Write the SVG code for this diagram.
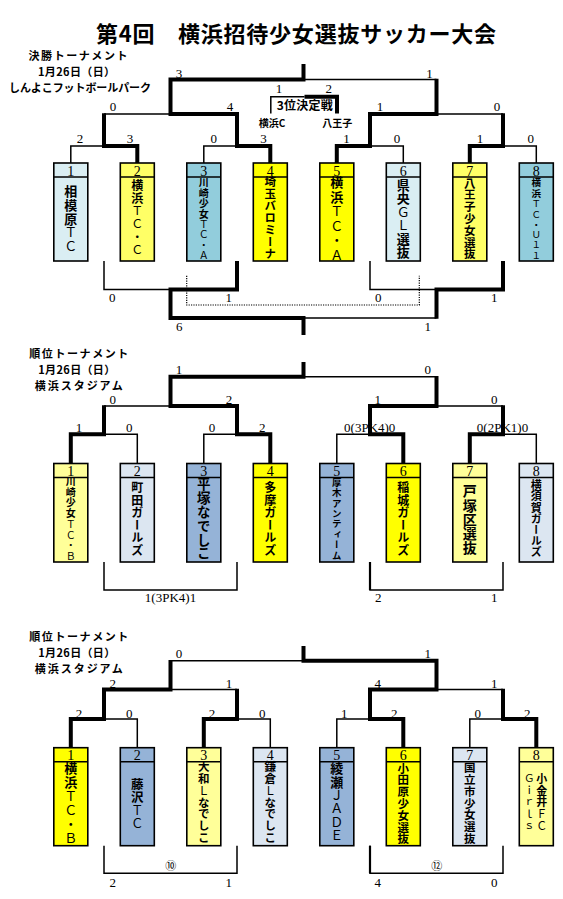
<svg xmlns="http://www.w3.org/2000/svg" width="563" height="899" viewBox="0 0 563 899">
<style>
.bg{fill:#fff}
.hd{font-family:"Noto Sans CJK JP","Noto Sans CJK SC",sans-serif;font-weight:bold;fill:#000;text-anchor:middle}
.sc{font-family:"Liberation Serif",serif;font-size:13px;fill:#000;text-anchor:middle}
.num{font-family:"Liberation Serif",serif;font-size:14px;fill:#000;text-anchor:middle}
.nm{font-family:"Noto Sans CJK JP",sans-serif;font-weight:bold;fill:#000;writing-mode:vertical-rl}
.lt{font-weight:normal}
.thin{fill:none;stroke:#000;stroke-width:1.5;stroke-linejoin:miter}
.thick{fill:none;stroke:#000;stroke-width:4;stroke-linejoin:miter}
.dot{fill:none;stroke:#000;stroke-width:1.2;stroke-dasharray:1.2 1.2}
.bx{stroke:#000;stroke-width:1.6}
.c1{fill:#DAEEF3}.c2{fill:#FFFF66}.c3{fill:#92CDDC}.c4{fill:#FFFF00}.c5{fill:#FFFF99}.c6{fill:#DCE6F1}.c7{fill:#95B3D7}
</style>
<rect class="bg" x="0" y="0" width="563" height="899"/>

<g id="titles">
<text class="hd" x="296" y="42" style="font-size:22px" textLength="400">第4回　横浜招待少女選抜サッカー大会</text>
<text class="hd" style="font-size:11px"><tspan x="78" y="60" textLength="99">決勝トーナメント</tspan><tspan x="76.5" y="76" textLength="77">1月26日（日）</tspan><tspan x="80" y="92" textLength="142">しんよこフットボールパーク</tspan></text>
<text class="hd" style="font-size:11px"><tspan x="78.8" y="358" textLength="99">順位トーナメント</tspan><tspan x="76.7" y="374" textLength="77">1月26日（日）</tspan><tspan x="78.8" y="390" textLength="88">横浜スタジアム</tspan></text>
<text class="hd" style="font-size:11px"><tspan x="78.8" y="641" textLength="99">順位トーナメント</tspan><tspan x="76.7" y="657" textLength="77">1月26日（日）</tspan><tspan x="78.8" y="673" textLength="88">横浜スタジアム</tspan></text>
<text class="hd" x="304.8" y="110" style="font-size:12px" textLength="56">3位決定戦</text>
<text class="hd" x="272" y="126.5" style="font-size:10px">横浜C</text>
<text class="hd" x="337.2" y="126.5" style="font-size:10px">八王子</text>
</g>

<g id="connectors">
<!-- section 1 -->
<path class="thin" d="M70.8,163 V146 H104 M203.8,163 V146 H237 M403.3,163 V146 H370 M536.3,163 V146 H503 M104,114 H170.5 M503,114 H436.5 M436.5,79.5 H303.5 M270.8,113.4 V96.7 H304.5"/>
<path class="thick" d="M137.3,163 V146 H104 V113.3"/>
<path class="thick" d="M270.3,163 V146 H237 V114 H170.5 V79.5 H303.5 V64"/>
<path class="thick" d="M336.8,163 V146 H370 V114 H436.5 V78.8"/>
<path class="thick" d="M469.8,163 V146 H503 V113.3"/>
<path class="thick" d="M304.5,96.7 H337 V113.4"/>
<path class="thin" d="M104,261 V289.5 H170.5 M303.5,318 H436.5 M370,261 V289.5 H436.5"/>
<path class="thick" d="M237,261 V289.5 H170.5 V318 H303.5 V335"/>
<path class="thick" d="M503,261 V289.5 H436.5 V318.7"/>
<path class="dot" d="M186.7,275.7 V305 H419.3 V275.7"/>
<!-- section 2 -->
<path class="thin" d="M137.3,463.5 V434.3 H104 M203.8,463.5 V434.3 H237 M336.8,463.5 V434.3 H370 M536.3,463.5 V434.3 H503 M104,406 H170.5 M503,406 H436.5 M436.5,376.7 H303.5"/>
<path class="thick" d="M70.8,463.5 V434.3 H104 V405.3"/>
<path class="thick" d="M270.3,463.5 V434.3 H237 V406 H170.5 V376.7 H303.5 V362"/>
<path class="thick" d="M403.3,463.5 V434.3 H370 V406 H436.5 V376"/>
<path class="thick" d="M469.8,463.5 V434.3 H503 V405.3"/>
<path class="thin" d="M104,562 V590 H237 V562 M370,562 V590 H503 V562"/>
<path class="thin" style="stroke-width:2.2" d="M370,562 V590"/>
<!-- section 3 -->
<path class="thin" d="M137.3,747.7 V719 H104 M270.3,747.7 V719 H237 M336.8,747.7 V719 H370 M469.8,747.7 V719 H503 M237,689.5 H170.5 M503,689.5 H436.5 M170.5,660.7 H303.5"/>
<path class="thick" d="M70.8,747.7 V719 H104 V689.5 H170.5 V660"/>
<path class="thick" d="M203.8,747.7 V719 H237 V688.8"/>
<path class="thick" d="M403.3,747.7 V719 H370 V689.5 H436.5 V660.7 H303.5 V646"/>
<path class="thick" d="M536.3,747.7 V719 H503 V688.8"/>
<path class="thin" d="M104,845.7 V873.3 H237 V845.7 M370,845.7 V873.3 H503 V845.7"/>
<path class="thin" style="stroke-width:2.2" d="M370,845.7 V873.3"/>
</g>

<g id="scores">
<text class="sc" x="179" y="77.5">3</text><text class="sc" x="429.6" y="77.5">1</text>
<text class="sc" x="113" y="111">0</text><text class="sc" x="230" y="111">4</text><text class="sc" x="380" y="111">1</text><text class="sc" x="497" y="111">0</text>
<text class="sc" x="80" y="143">2</text><text class="sc" x="130" y="143">3</text><text class="sc" x="213.7" y="143">0</text><text class="sc" x="263.5" y="143">3</text><text class="sc" x="346.6" y="143">1</text><text class="sc" x="397" y="143">0</text><text class="sc" x="480" y="143">1</text><text class="sc" x="530.7" y="143">0</text>
<text class="sc" x="279" y="93">1</text><text class="sc" x="328.8" y="93">2</text>
<text class="sc" x="112.3" y="301.5">0</text><text class="sc" x="228.7" y="301.5">1</text><text class="sc" x="378.3" y="301.5">0</text><text class="sc" x="494.3" y="301.5">1</text>
<text class="sc" x="179.3" y="331">6</text><text class="sc" x="427.7" y="331">1</text>

<text class="sc" x="179" y="374">1</text><text class="sc" x="427.7" y="374">0</text>
<text class="sc" x="112.7" y="403.5">0</text><text class="sc" x="229" y="403.5">2</text><text class="sc" x="377.7" y="403.5">1</text><text class="sc" x="494.3" y="403.5">0</text>
<text class="sc" x="79" y="432">1</text><text class="sc" x="129.3" y="432">0</text><text class="sc" x="212" y="432">0</text><text class="sc" x="262.3" y="432">2</text>
<text class="sc" x="369.7" y="432">0(3PK4)0</text><text class="sc" x="502.5" y="432">0(2PK1)0</text>
<text class="sc" x="170.5" y="601.5">1(3PK4)1</text>
<text class="sc" x="378.3" y="602">2</text><text class="sc" x="494.3" y="602">1</text>

<text class="sc" x="179" y="657.5">0</text><text class="sc" x="427.7" y="657.5">1</text>
<text class="sc" x="112.7" y="687.5">2</text><text class="sc" x="229" y="687.5">1</text><text class="sc" x="377.7" y="687.5">4</text><text class="sc" x="494.3" y="687.5">1</text>
<text class="sc" x="79" y="717.5">2</text><text class="sc" x="129.3" y="717.5">0</text><text class="sc" x="212" y="717.5">2</text><text class="sc" x="262.3" y="717.5">0</text><text class="sc" x="344.3" y="717.5">1</text><text class="sc" x="394.3" y="717.5">2</text><text class="sc" x="477.7" y="717.5">0</text><text class="sc" x="527.3" y="717.5">2</text>
<text class="hd" x="170.7" y="870" style="font-size:11px;font-weight:normal">⑩</text><text class="hd" x="436.7" y="870" style="font-size:11px;font-weight:normal">⑫</text>
<text class="sc" x="112.7" y="886.5">2</text><text class="sc" x="228.7" y="886.5">1</text><text class="sc" x="377.7" y="886.5">4</text><text class="sc" x="494.3" y="886.5">0</text>
</g>

<!-- Section 1 teams -->
<g id="s1t1"><rect class="bx c1" x="53.8" y="163" width="34" height="98"/><line class="bx" x1="53.8" y1="177" x2="87.8" y2="177"/><text class="num" x="70.8" y="175.5">1</text><text class="nm" x="70.8" y="184.2" style="font-size:13px;letter-spacing:1px">相模原<tspan class="lt">ＴＣ</tspan></text></g>
<g id="s1t2"><rect class="bx c2" x="120.3" y="163" width="34" height="98"/><line class="bx" x1="120.3" y1="177" x2="154.3" y2="177"/><text class="num" x="137.3" y="175.5">2</text><text class="nm" x="137.3" y="179" style="font-size:12px;letter-spacing:1px">横浜<tspan class="lt">ＴＣ・Ｃ</tspan></text></g>
<g id="s1t3"><rect class="bx c3" x="186.8" y="163" width="34" height="98"/><line class="bx" x1="186.8" y1="177" x2="220.8" y2="177"/><text class="num" x="203.8" y="175.5">3</text><text class="nm" x="203.8" y="177.3" style="font-size:10px;letter-spacing:0.5px">川崎少女<tspan class="lt">ＴＣ・Ａ</tspan></text></g>
<g id="s1t4"><rect class="bx c4" x="253.3" y="163" width="34" height="98"/><line class="bx" x1="253.3" y1="177" x2="287.3" y2="177"/><text class="num" x="270.3" y="175.5">4</text><text class="nm" x="270.3" y="176" style="font-size:11.5px;letter-spacing:0.4px">埼玉バロミーナ</text></g>
<g id="s1t5"><rect class="bx c4" x="319.8" y="163" width="34" height="98"/><line class="bx" x1="319.8" y1="177" x2="353.8" y2="177"/><text class="num" x="336.8" y="175.5">5</text><text class="nm" x="336.8" y="175.8" style="font-size:13px;letter-spacing:1.5px">横浜<tspan class="lt">ＴＣ・Ａ</tspan></text></g>
<g id="s1t6"><rect class="bx c1" x="386.3" y="163" width="34" height="98"/><line class="bx" x1="386.3" y1="177" x2="420.3" y2="177"/><text class="num" x="403.3" y="175.5">6</text><text class="nm" x="403.3" y="178.5" style="font-size:13px;letter-spacing:0.4px">県央<tspan class="lt">ＧＬ</tspan>選抜</text></g>
<g id="s1t7"><rect class="bx c2" x="452.8" y="163" width="34" height="98"/><line class="bx" x1="452.8" y1="177" x2="486.8" y2="177"/><text class="num" x="469.8" y="175.5">7</text><text class="nm" x="469.8" y="177.5" style="font-size:11.5px;letter-spacing:0.3px">八王子少女選抜</text></g>
<g id="s1t8"><rect class="bx c3" x="519.3" y="163" width="34" height="98"/><line class="bx" x1="519.3" y1="177" x2="553.3" y2="177"/><text class="num" x="536.3" y="175.5">8</text><text class="nm" x="536.3" y="178" style="font-size:9.5px;letter-spacing:0.8px">横浜<tspan class="lt">ＴＣ・Ｕ１１</tspan></text></g>

<!-- Section 2 teams -->
<g id="s2t1"><rect class="bx c5" x="53.8" y="463.5" width="34" height="98.5"/><line class="bx" x1="53.8" y1="477.5" x2="87.8" y2="477.5"/><text class="num" x="70.8" y="476">1</text><text class="nm" x="70.8" y="476.3" style="font-size:10px;letter-spacing:0.7px">川崎少女<tspan class="lt">ＴＣ・Ｂ</tspan></text></g>
<g id="s2t2"><rect class="bx c6" x="120.3" y="463.5" width="34" height="98.5"/><line class="bx" x1="120.3" y1="477.5" x2="154.3" y2="477.5"/><text class="num" x="137.3" y="476">2</text><text class="nm" x="137.3" y="481.7" style="font-size:12px;letter-spacing:0.5px">町田ガールズ</text></g>
<g id="s2t3"><rect class="bx c7" x="186.8" y="463.5" width="34" height="98.5"/><line class="bx" x1="186.8" y1="477.5" x2="220.8" y2="477.5"/><text class="num" x="203.8" y="476">3</text><text class="nm" x="203.8" y="477.5" style="font-size:13.5px;letter-spacing:0.3px">平塚なでしこ</text></g>
<g id="s2t4"><rect class="bx c4" x="253.3" y="463.5" width="34" height="98.5"/><line class="bx" x1="253.3" y1="477.5" x2="287.3" y2="477.5"/><text class="num" x="270.3" y="476">4</text><text class="nm" x="270.3" y="481.7" style="font-size:12px;letter-spacing:0.5px">多摩ガールズ</text></g>
<g id="s2t5"><rect class="bx c7" x="319.8" y="463.5" width="34" height="98.5"/><line class="bx" x1="319.8" y1="477.5" x2="353.8" y2="477.5"/><text class="num" x="336.8" y="476">5</text><text class="nm" x="336.8" y="477.5" style="font-size:9.5px;letter-spacing:0.9px">厚木アンティーム</text></g>
<g id="s2t6"><rect class="bx c4" x="386.3" y="463.5" width="34" height="98.5"/><line class="bx" x1="386.3" y1="477.5" x2="420.3" y2="477.5"/><text class="num" x="403.3" y="476">6</text><text class="nm" x="403.3" y="481.7" style="font-size:12px;letter-spacing:0.5px">稲城ガールズ</text></g>
<g id="s2t7"><rect class="bx c5" x="452.8" y="463.5" width="34" height="98.5"/><line class="bx" x1="452.8" y1="477.5" x2="486.8" y2="477.5"/><text class="num" x="469.8" y="476">7</text><text class="nm" x="469.8" y="484" style="font-size:14px;letter-spacing:0.2px">戸塚区選抜</text></g>
<g id="s2t8"><rect class="bx c6" x="519.3" y="463.5" width="34" height="98.5"/><line class="bx" x1="519.3" y1="477.5" x2="553.3" y2="477.5"/><text class="num" x="536.3" y="476">8</text><text class="nm" x="536.3" y="479.5" style="font-size:11px;letter-spacing:0.2px">横須賀ガールズ</text></g>

<!-- Section 3 teams -->
<g id="s3t1"><rect class="bx c4" x="53.8" y="747.7" width="34" height="98"/><line class="bx" x1="53.8" y1="761.7" x2="87.8" y2="761.7"/><text class="num" x="70.8" y="760">1</text><text class="nm" x="70.8" y="761.8" style="font-size:13px;letter-spacing:1px">横浜<tspan class="lt">ＴＣ・Ｂ</tspan></text></g>
<g id="s3t2"><rect class="bx c7" x="120.3" y="747.7" width="34" height="98"/><line class="bx" x1="120.3" y1="761.7" x2="154.3" y2="761.7"/><text class="num" x="137.3" y="760">2</text><text class="nm" x="137.3" y="778" style="font-size:12.5px;letter-spacing:0.5px">藤沢<tspan class="lt">ＴＣ</tspan></text></g>
<g id="s3t3"><rect class="bx c5" x="186.8" y="747.7" width="34" height="98"/><line class="bx" x1="186.8" y1="761.7" x2="220.8" y2="761.7"/><text class="num" x="203.8" y="760">3</text><text class="nm" x="203.8" y="761" style="font-size:11.5px;letter-spacing:0.3px">大和<tspan class="lt">Ｌ</tspan>なでしこ</text></g>
<g id="s3t4"><rect class="bx c6" x="253.3" y="747.7" width="34" height="98"/><line class="bx" x1="253.3" y1="761.7" x2="287.3" y2="761.7"/><text class="num" x="270.3" y="760">4</text><text class="nm" x="270.3" y="761" style="font-size:11.5px;letter-spacing:0.3px">鎌倉<tspan class="lt">Ｌ</tspan>なでしこ</text></g>
<g id="s3t5"><rect class="bx c7" x="319.8" y="747.7" width="34" height="98"/><line class="bx" x1="319.8" y1="761.7" x2="353.8" y2="761.7"/><text class="num" x="336.8" y="760">5</text><text class="nm" x="336.8" y="761.8" style="font-size:13px;letter-spacing:0.4px">綾瀬<tspan class="lt">ＪＡＤＥ</tspan></text></g>
<g id="s3t6"><rect class="bx c4" x="386.3" y="747.7" width="34" height="98"/><line class="bx" x1="386.3" y1="761.7" x2="420.3" y2="761.7"/><text class="num" x="403.3" y="760">6</text><text class="nm" x="403.3" y="762.5" style="font-size:11.5px;letter-spacing:0.3px">小田原少女選抜</text></g>
<g id="s3t7"><rect class="bx c6" x="452.8" y="747.7" width="34" height="98"/><line class="bx" x1="452.8" y1="761.7" x2="486.8" y2="761.7"/><text class="num" x="469.8" y="760">7</text><text class="nm" x="469.8" y="762" style="font-size:11.5px;letter-spacing:0.3px">国立市少女選抜</text></g>
<g id="s3t8"><rect class="bx c5" x="519.3" y="747.7" width="34" height="98"/><line class="bx" x1="519.3" y1="761.7" x2="553.3" y2="761.7"/><text class="num" x="536.3" y="760">8</text><text class="nm" x="541.7" y="773.5" style="font-size:11px;letter-spacing:0.5px">小金井<tspan class="lt">ＦＣ</tspan></text><text class="nm lt" x="529.3" y="772.5" style="font-size:10.5px;letter-spacing:1.7px">Ｇｉｒｌｓ</text></g>
</svg>
